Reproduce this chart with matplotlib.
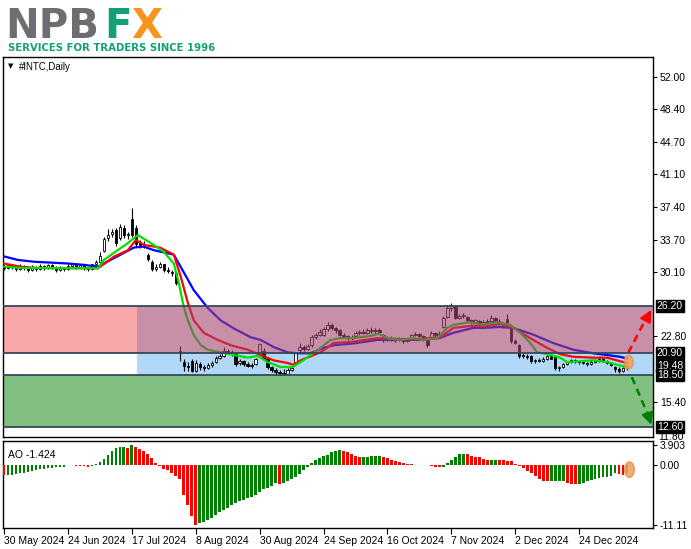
import matplotlib
matplotlib.use("Agg")
import matplotlib.pyplot as plt
import matplotlib.transforms as mtrans
from matplotlib.patches import Ellipse, Rectangle

plt.rcParams['font.family'] = ['Liberation Sans', 'DejaVu Sans']

# ---- data (bar index = trading day since 30 May 2024) ----
date_ticks = [0, 16, 32, 48, 64, 80, 96, 112, 128, 144]
date_labels = ["30 May 2024", "24 Jun 2024", "17 Jul 2024", "8 Aug 2024", "30 Aug 2024",
               "24 Sep 2024", "16 Oct 2024", "7 Nov 2024", "2 Dec 2024", "24 Dec 2024"]

opens = [30.7, 30.5, 30.8, 30.6, 30.4, 30.7, 30.5, 30.3, 30.6, 30.4, 30.7, 30.5, 30.8, 30.6, 30.3, 30.5,
         30.4, 30.7, 30.9, 30.6, 30.8, 30.5, 30.4, 30.9, 31.2, 32.4, 33.9, 34.3, 34.8, 33.9, 35.0, 34.2,
         36.0, 35.0, 33.3, 33.2, 32.0, 31.2, 30.4, 30.6, 30.9, 30.3, 30.1, 29.9, 21.2, 19.9, 19.5, 20.0,
         18.9, 19.7, 19.3, 19.2, 19.6, 19.9, 20.4, 20.6, 21.2, 21.0, 20.8, 19.8, 20.0, 19.7, 19.5, 19.7,
         20.9, 21.2, 20.2, 19.3, 19.0, 18.8, 18.7, 18.6, 19.0, 19.9, 21.3, 21.6, 21.4, 21.8, 22.7, 23.0,
         23.0, 23.6, 24.1, 23.7, 23.5, 23.0, 22.8, 22.6, 22.8, 23.2, 23.3, 23.2, 23.5, 23.4, 23.5, 23.0,
         22.4, 22.6, 22.5, 22.4, 22.5, 22.3, 22.5, 22.9, 23.1, 22.8, 22.4, 22.6, 23.2, 22.9, 23.8, 25.0,
         26.0, 26.1, 24.9, 25.1, 25.0, 24.6, 24.4, 24.5, 24.2, 24.4, 24.5, 24.9, 24.5, 24.3, 24.8, 23.7,
         22.3, 21.8, 20.7, 20.6, 20.6, 20.0, 20.1, 20.0, 20.2, 20.6, 20.5, 19.2, 19.3, 19.7, 19.9, 20.1,
         20.0, 19.9, 19.8, 19.7, 19.9, 20.0, 20.2, 20.0, 19.8, 19.4, 19.1, 18.9, 19.2]
highs = [30.9, 31.0, 30.9, 30.7, 30.9, 30.8, 30.6, 30.8, 30.7, 30.9, 30.8, 31.0, 30.9, 30.7, 30.7, 30.6,
         30.9, 31.1, 31.0, 31.0, 30.9, 30.6, 31.0, 31.4, 32.3, 34.0, 34.9, 34.9, 35.0, 35.4, 35.3, 34.6,
         37.2, 35.3, 33.6, 33.5, 32.2, 31.4, 30.9, 31.2, 31.0, 30.6, 30.3, 30.0, 21.7, 20.3, 19.9, 20.2,
         20.1, 19.9, 19.6, 19.8, 20.0, 20.6, 20.8, 21.6, 21.4, 21.3, 20.9, 20.2, 20.1, 19.9, 19.8, 20.4,
         22.1, 21.5, 20.3, 19.5, 19.2, 19.0, 19.1, 19.2, 19.5, 21.0, 22.0, 21.8, 21.9, 23.0, 23.2, 23.6,
         23.8, 24.4, 24.3, 23.9, 23.6, 23.2, 23.0, 22.9, 23.4, 23.5, 23.6, 23.7, 23.8, 23.7, 23.7, 23.1,
         22.8, 22.8, 22.7, 22.7, 22.6, 22.6, 23.1, 23.3, 23.2, 22.9, 22.5, 23.4, 23.3, 23.4, 25.1, 26.3,
         26.5, 26.3, 25.3, 25.4, 25.1, 24.8, 24.8, 24.6, 24.6, 24.7, 25.2, 25.0, 24.7, 24.4, 25.3, 23.8,
         22.5, 21.9, 20.9, 20.8, 20.7, 20.3, 20.4, 20.5, 20.7, 20.7, 20.6, 19.5, 19.8, 20.0, 20.3, 20.2,
         20.1, 20.1, 19.9, 20.1, 20.2, 20.4, 20.3, 20.1, 19.9, 19.5, 19.3, 19.4, 19.6]
lows = [30.3, 30.4, 30.4, 30.2, 30.3, 30.3, 30.1, 30.2, 30.2, 30.3, 30.3, 30.4, 30.4, 30.1, 30.2, 30.2,
        30.3, 30.6, 30.4, 30.5, 30.3, 30.2, 30.3, 30.8, 31.1, 32.3, 33.5, 34.0, 33.0, 33.7, 33.9, 33.8,
        34.0, 32.9, 32.8, 32.7, 31.3, 30.2, 30.2, 30.5, 30.0, 29.9, 29.6, 28.6, 20.0, 18.9, 18.9, 18.8,
        18.8, 19.0, 18.9, 19.1, 19.4, 19.8, 20.2, 20.5, 20.8, 20.6, 19.5, 19.6, 19.5, 19.3, 19.2, 19.6,
        20.8, 20.1, 19.1, 18.8, 18.5, 18.4, 18.4, 18.5, 18.9, 19.8, 21.0, 21.1, 21.3, 21.6, 22.5, 22.8,
        22.8, 23.4, 23.5, 23.2, 22.8, 22.6, 22.4, 22.4, 22.7, 23.0, 23.1, 23.1, 23.2, 23.1, 23.2, 22.2,
        22.3, 22.3, 22.2, 22.3, 22.1, 22.2, 22.4, 22.8, 22.6, 22.3, 21.6, 22.5, 22.7, 22.8, 23.7, 24.9,
        25.7, 24.7, 24.8, 24.9, 24.4, 24.2, 24.3, 24.0, 24.1, 24.2, 24.4, 24.4, 24.1, 23.8, 24.0, 22.1,
        21.9, 20.4, 20.4, 20.3, 19.8, 19.8, 19.9, 19.9, 20.1, 20.2, 19.0, 18.9, 19.2, 19.6, 19.8, 19.8,
        19.7, 19.7, 19.5, 19.6, 19.8, 19.9, 19.9, 19.7, 19.5, 18.8, 18.7, 18.8, 19.0]
closes = [30.5, 30.8, 30.6, 30.4, 30.7, 30.5, 30.3, 30.6, 30.4, 30.7, 30.5, 30.8, 30.6, 30.3, 30.5, 30.4,
          30.7, 30.9, 30.6, 30.8, 30.5, 30.4, 30.9, 31.2, 31.9, 33.8, 34.2, 34.6, 33.3, 35.1, 34.2, 34.3,
          34.2, 33.2, 33.1, 33.0, 31.5, 30.4, 30.6, 30.9, 30.3, 30.2, 29.9, 28.8, 20.9, 19.5, 19.3, 18.9,
          19.8, 19.3, 19.2, 19.6, 19.8, 20.4, 20.6, 21.2, 21.0, 20.9, 19.7, 20.0, 19.7, 19.5, 19.6, 20.2,
          21.9, 20.2, 19.3, 19.0, 18.8, 18.7, 18.6, 19.0, 19.2, 20.9, 21.6, 21.4, 21.7, 22.7, 23.0, 23.3,
          23.6, 24.1, 23.7, 23.5, 23.0, 22.8, 22.6, 22.7, 23.2, 23.3, 23.2, 23.5, 23.4, 23.5, 23.3, 22.4,
          22.6, 22.5, 22.4, 22.5, 22.3, 22.4, 22.9, 23.1, 22.8, 22.5, 21.8, 23.2, 22.9, 23.1, 24.9, 26.0,
          26.2, 24.9, 25.1, 25.2, 24.6, 24.4, 24.6, 24.2, 24.4, 24.5, 24.9, 24.5, 24.3, 24.0, 24.1, 22.3,
          22.0, 20.6, 20.6, 20.5, 20.0, 20.1, 20.0, 20.3, 20.6, 20.3, 19.2, 19.3, 19.7, 19.9, 20.1, 20.0,
          19.9, 19.8, 19.7, 19.9, 20.0, 20.2, 20.0, 19.8, 19.6, 19.1, 18.9, 19.2, 19.48]

# moving averages sampled along the drawn lines (bar index, price)
blue_x = [0, 3.5, 7.5, 11.75, 16, 20, 23.5, 27.5, 32.5, 35, 37.5, 42.5, 44.25, 47.5, 51, 54.25, 57.5,
          61.75, 64.25, 67.5, 71, 73.5, 76.75, 80, 82.5, 87.5, 93.5, 99, 104, 109, 112.5, 117.5, 120,
          124, 127.5, 132.5, 137.5, 142.5, 147.5, 151, 154.25, 156]
blue_y = [31.8, 31.4, 31.2, 31.1, 31.0, 30.85, 30.65, 31.6, 32.8, 32.9, 32.5, 32.0, 30.6, 28.0, 26.0,
          24.6, 23.7, 22.7, 22.4, 21.6, 21.0, 20.9, 20.9, 21.5, 21.8, 22.0, 22.4, 22.4, 22.4, 22.6, 23.2,
          23.75, 23.75, 23.85, 23.75, 23.0, 22.05, 21.3, 20.9, 20.7, 20.5, 20.3]
red_x = [0, 4, 8, 23.5, 27.5, 31, 33, 35, 39, 42.5, 44.25, 46, 47.5, 50, 53.5, 56.75, 61, 64.25, 67.5,
         71, 72.5, 74.25, 77.5, 79.25, 82.5, 87.5, 93.5, 98.5, 104.25, 109.25, 112.5, 117.5, 120,
         124.25, 127.5, 131.75, 136, 139.25, 142.5, 147.5, 151, 154.25, 156]
red_y = [31.0, 30.65, 30.5, 30.46, 31.77, 32.5, 33.65, 33.1, 32.8, 32.0, 29.5, 26.6, 24.6, 23.2, 22.4,
         21.8, 21.3, 20.7, 20.1, 19.8, 19.6, 20.1, 20.7, 21.0, 22.05, 22.2, 22.6, 22.5, 22.5, 22.7, 23.75,
         24.0, 23.9, 24.2, 23.75, 22.6, 21.5, 20.8, 20.5, 20.4, 20.4, 20.0, 19.8]
green_x = [0, 4, 23.5, 25, 27.5, 31, 33.5, 36.75, 40, 42.5, 43.75, 45, 46, 47.5, 49.25, 51, 54.25,
           57.5, 61, 63.5, 66, 69.25, 72.25, 74.25, 76.75, 79.25, 81.75, 84.25, 87.5, 91.75, 93.75, 96,
           99.25, 102.5, 105, 108.5, 111, 112.5, 116.75, 120, 123.5, 126.75, 129.25, 131.75, 133.5,
           136, 139.25, 141, 144.25, 147.5, 151, 153.5, 156]
green_y = [30.65, 30.5, 30.46, 31.4, 32.2, 33.3, 34.2, 33.3, 32.3, 31.0, 28.8, 26.1, 24.6, 22.95, 21.8,
           21.3, 21.0, 20.7, 20.4, 20.6, 19.9, 19.35, 19.35, 19.9, 20.7, 21.5, 22.4, 22.6, 22.6, 22.85,
           23.1, 22.6, 22.4, 22.6, 22.4, 22.6, 23.75, 24.1, 24.4, 24.1, 24.4, 24.1, 23.2, 22.05, 21.0,
           20.8, 20.4, 19.9, 20.0, 20.1, 19.9, 19.6, 19.35]

ao = [-1.8, -1.75, -1.7, -1.6, -1.5, -1.35, -1.2, -1.05, -0.9, -0.75, -0.6, -0.5, -0.4, -0.3,
      -0.25, -0.2, 0.1, 0.05, -0.05, -0.1, -0.15, -0.2, -0.1,
      0.3, 0.7, 1.3, 2.0, 2.8, 3.3, 3.4, 3.45, 3.3, 3.903,
      3.5, 3.1, 2.7, 2.1, 1.4, 0.4, -0.1, -0.6, -0.9, -1.4, -2.0, -2.6, -5.5, -7.5, -9.5, -11.11,
      -10.9, -10.6, -10.3, -9.8, -9.3, -8.8, -8.3, -7.9, -7.5, -7.1, -6.7, -6.4, -6.2, -5.9, -5.6,
      -5.0, -4.5, -4.2, -3.9, -3.3, -3.5,
      -3.3, -3.0, -2.6, -2.2, -1.6, -0.9, -0.2,
      0.5, 1.1, 1.4, 1.7, 2.0, 2.6, 2.8, 2.85, 2.8, 2.5, 2.2, 1.8, 1.5,
      1.55, 1.6, 1.7, 1.75, 1.8,
      1.6, 1.4, 1.1, 0.9, 0.7, 0.5, 0.35, 0.25, 0.15, 0.1, 0.05, 0.07, -0.15, -0.3, -0.35,
      -0.2, 0.4, 1.0, 1.6, 2.1, 2.2, 2.1, 1.8, 1.6, 1.5, 1.2, 1.0, 1.05, 1.08,
      1.0, 0.95, 0.9, 0.8, 0.3, -0.1, -0.5, -1.0, -1.5, -2.0, -2.5, -2.9, -3.0,
      -2.95, -2.93, -2.9, -2.88, -3.2, -3.4, -3.5,
      -3.4, -3.2, -3.0, -2.8, -2.6, -2.4, -2.2, -2.1, -1.95, -1.5, -1.6, -1.75, -1.424]

zone_top, zone_mid, zone_low, zone_bottom = 26.20, 20.90, 18.50, 12.60
last_price = 19.48
price_ticks = [52.00, 48.40, 44.70, 41.10, 37.40, 33.70, 30.10, 22.80, 15.40]
ao_ticks = [3.903, 0.0, -11.11]

# ---- figure ----
W, H = 691, 549
fig = plt.figure(figsize=(W / 100, H / 100), dpi=100)
ax = fig.add_axes([2.5 / W, 1 - 437 / H, 650.5 / W, 380 / H])
ax2 = fig.add_axes([2.5 / W, 1 - 528 / H, 650.5 / W, 87 / H])

xmin, xmax = -0.4, 162.5
for a in (ax, ax2):
    a.set_xlim(xmin, xmax)
    for s in a.spines.values():
        s.set_color('black')
        s.set_linewidth(1.0)
ax.set_ylim(11.47, 54.25)
ax2.set_ylim(-11.75, 4.6)

# zones
split = 33.25
ax.add_patch(Rectangle((xmin, zone_mid), split - xmin, zone_top - zone_mid, color='#f8a8a8', zorder=0, lw=0))
ax.add_patch(Rectangle((split, zone_low), xmax - split, zone_mid - zone_low, color='#b2d8f8', zorder=0, lw=0))
ax.add_patch(Rectangle((xmin, zone_bottom), xmax - xmin, zone_low - zone_bottom, color='#82c082', zorder=0, lw=0))
# overlapping part drawn on top so lines and candles get tinted like in the terminal
ax.add_patch(Rectangle((split, zone_mid), xmax - split, zone_top - zone_mid, facecolor=(0.64, 0.27, 0.43),
                       alpha=0.6, zorder=6, lw=0))
for lvl in (zone_top, zone_mid, zone_low, zone_bottom):
    ax.axhline(lvl, color='#34485a', lw=1.3, zorder=7)

# candles
idx = list(range(len(closes)))
ax.vlines(idx, lows, highs, color='black', lw=0.8, zorder=3)
bottoms = [min(o, c) for o, c in zip(opens, closes)]
heights = [max(abs(c - o), 0.06) for o, c in zip(opens, closes)]
colors = ['white' if c >= o else 'black' for o, c in zip(opens, closes)]
ax.bar(idx, heights, bottom=bottoms, width=0.62, color=colors, edgecolor='black', lw=0.6, zorder=4)

# moving averages
ax.plot(blue_x, blue_y, color='#0000ff', lw=1.6, zorder=5)
ax.plot(red_x, red_y, color='#ff0000', lw=1.6, zorder=5)
ax.plot(green_x, green_y, color='#00e000', lw=1.6, zorder=5)

ax.add_patch(Ellipse((156.4, 19.9), 2.2, 1.55, facecolor='#f2a060', edgecolor='#f08a40', alpha=0.85, zorder=8))

# forecast arrows
ax.plot([156.3, 161.2], [20.95, 25.2], color='red', lw=1.8, ls=(0, (3, 2)), zorder=9, clip_on=False)
ax.annotate('', xy=(162.4, 26.05), xytext=(161.0, 24.9),
            arrowprops=dict(arrowstyle='-|>,head_width=0.35,head_length=0.7', color='red', lw=1.5),
            zorder=9, annotation_clip=False)
ax.plot([157.2, 161.6], [18.2, 13.6], color='#008000', lw=1.8, ls=(0, (3, 2)), zorder=9, clip_on=False)
ax.annotate('', xy=(162.3, 12.55), xytext=(161.3, 13.9),
            arrowprops=dict(arrowstyle='-|>,head_width=0.35,head_length=0.7', color='#008000', lw=1.5),
            zorder=9, annotation_clip=False)

# price scale
ax.yaxis.tick_right()
ax.set_yticks(price_ticks)
ax.set_yticklabels([f"{p:.2f}" for p in price_ticks])
ax.tick_params(axis='y', direction='out', length=3, width=0.8, pad=2, labelsize=7.5, colors='black')
ax.set_xticks([])
trans = mtrans.blended_transform_factory(ax.transAxes, ax.transData)
# bottom label of the scale, half hidden under the indicator window as in the terminal
ax.text(1.008, 0.0, "11.80", transform=ax.transAxes, ha='left', va='center', fontsize=7.5,
        clip_on=False)
for val in (zone_top, zone_mid, last_price, zone_low, zone_bottom):
    ax.text(1.006, val, f"{val:.2f}", transform=trans, ha='left', va='center', fontsize=7.5,
            color='white', zorder=10,
            bbox=dict(boxstyle='square,pad=0.1', facecolor='black', edgecolor='black'))

ax.text(0.009, 0.985, u"\u25BC", transform=ax.transAxes, fontsize=5, va='top', ha='left',
        family='DejaVu Sans')
ax.text(0.025, 0.987, "#INTC,Daily", transform=ax.transAxes, fontsize=7, va='top', ha='left')

# AO histogram
ao_colors = ['#ff0000']
for k in range(1, len(ao)):
    ao_colors.append('#008000' if ao[k] > ao[k - 1] else '#ff0000')
ax2.bar(range(len(ao)), ao, width=0.7, color=ao_colors, lw=0, zorder=3)
ax2.add_patch(Ellipse((156.6, ao[-1] * 0.55), 2.4, 2.9, facecolor='#f2a060', edgecolor='#f08a40',
                      alpha=0.85, zorder=5))
ax2.yaxis.tick_right()
ax2.set_yticks(ao_ticks)
ax2.set_yticklabels(["3.903", "0.00", "-11.11"])
ax2.tick_params(axis='y', direction='out', length=3, width=0.8, pad=2, labelsize=7.5)
ax2.set_xticks(date_ticks)
ax2.set_xticklabels(date_labels, ha='left')
ax2.tick_params(axis='x', direction='out', length=4, width=0.8, pad=2, labelsize=7.5)
ax2.text(0.009, 0.9, "AO -1.424", transform=ax2.transAxes, fontsize=7.5, va='top', ha='left')

# logo
fig.text(5 / W, 1 - 38 / H, "NPB", fontsize=29, fontweight='bold', color='#6d6e71',
         family='DejaVu Sans', va='baseline')
fig.text(104 / W, 1 - 38 / H, "F", fontsize=29, fontweight='bold', color='#13a079',
         family='DejaVu Sans', va='baseline')
fig.text(131 / W, 1 - 38 / H, "X", fontsize=29, fontweight='bold', color='#f7941d',
         family='DejaVu Sans', va='baseline')
fig.text(8 / W, 1 - 51 / H, "SERVICES FOR TRADERS SINCE 1996", fontsize=7.3, fontweight='bold',
         color='#13a079', family=['Liberation Sans Narrow', 'DejaVu Sans'], va='baseline')

fig.savefig("out.png", dpi=100)
